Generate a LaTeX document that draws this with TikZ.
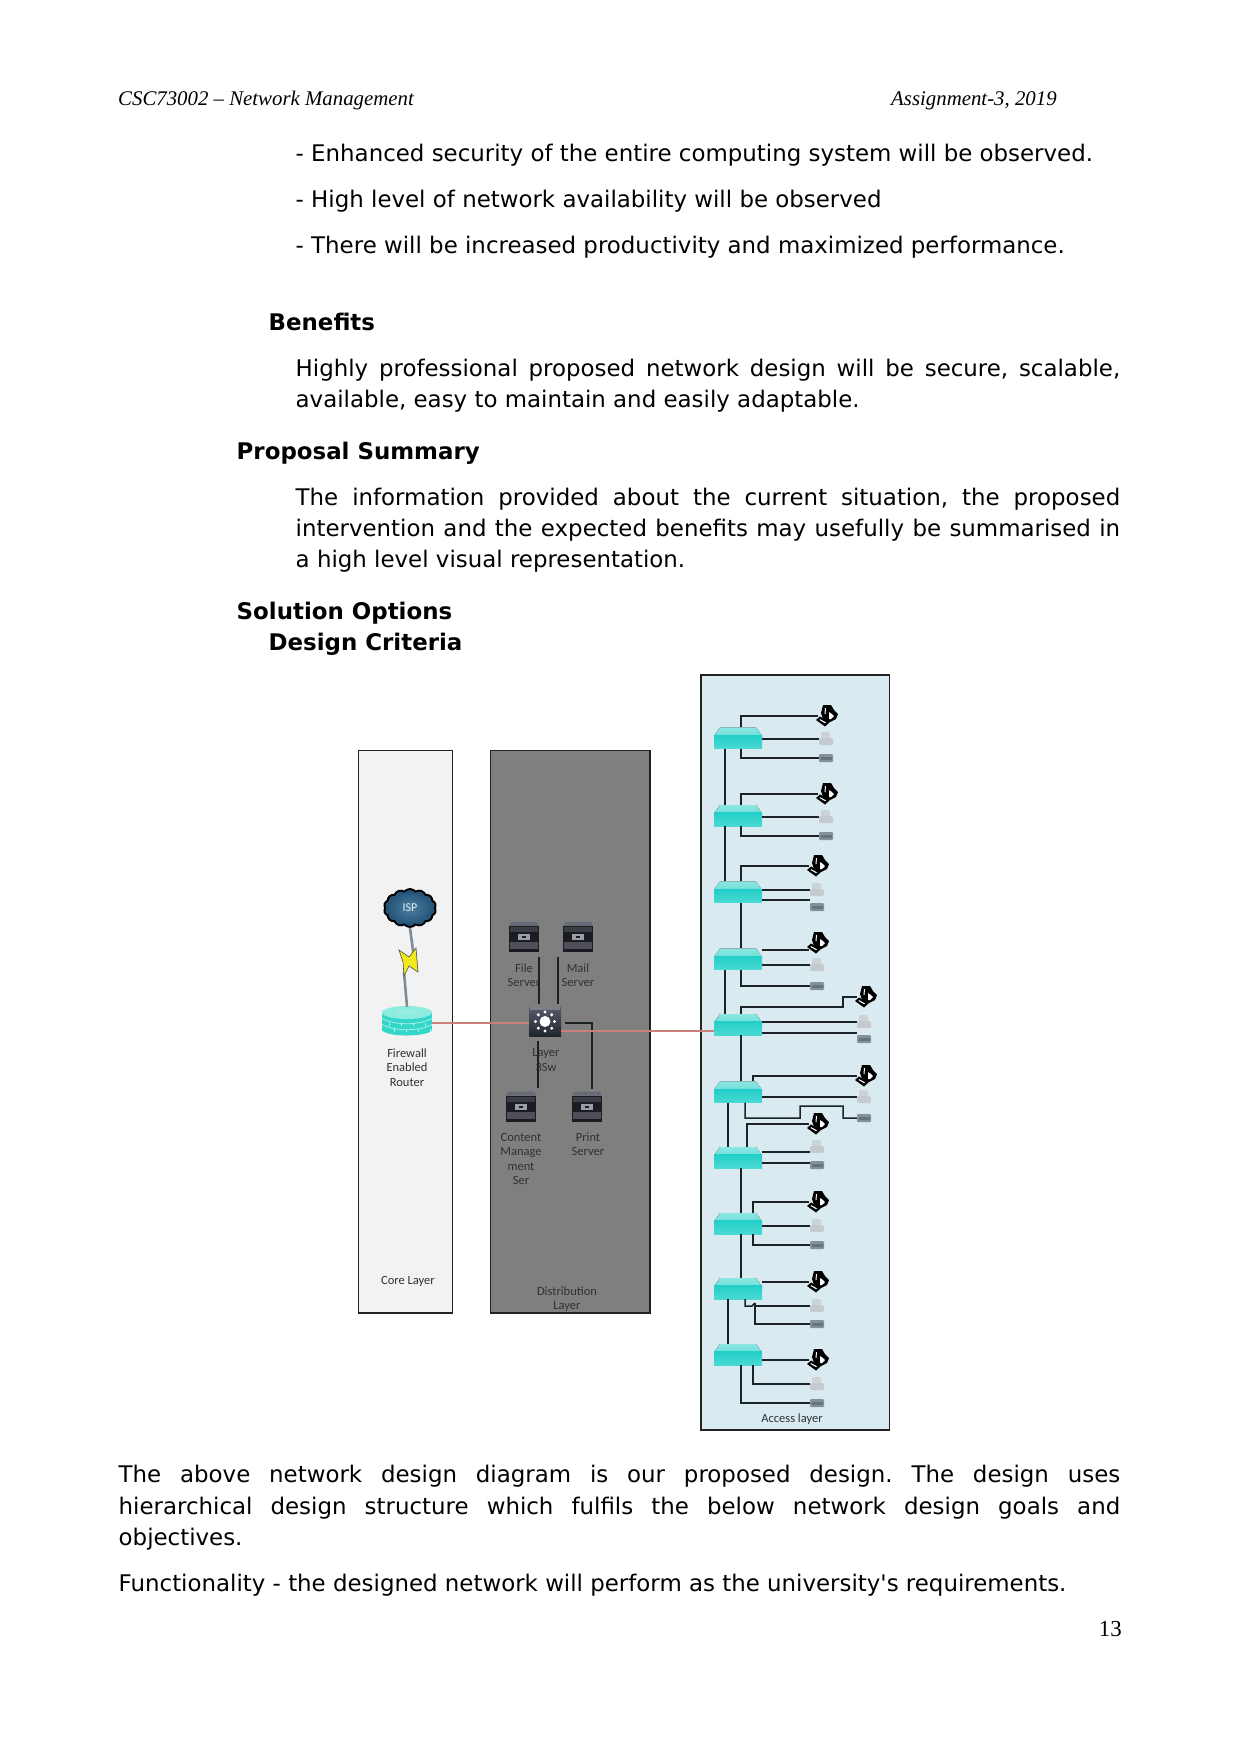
\documentclass[tikz,border=0pt]{standalone}
\usepackage{fontspec}
\setmainfont{DejaVu Sans}
\newfontfamily\pagefont{Liberation Serif}
\newfontfamily\labelfont{Carlito}
\usetikzlibrary{shapes.symbols}

\definecolor{corefill}{HTML}{F2F2F2}
\definecolor{distfill}{HTML}{7F7F7F}
\definecolor{accessfill}{HTML}{DAEAF1}
\definecolor{boxline}{HTML}{222222}
\definecolor{wirecol}{HTML}{1B2327}
\definecolor{linkred}{HTML}{C9807A}
\definecolor{labelcol}{HTML}{2E3236}
\definecolor{swtop}{HTML}{8CE6E2}
\definecolor{swtopb}{HTML}{6FE0DB}
\definecolor{swfront}{HTML}{22CFC8}
\definecolor{swfrontb}{HTML}{4BD9D3}
\definecolor{printerlight}{HTML}{CDD2D5}
\definecolor{printerbase}{HTML}{C4CACD}
\definecolor{unitgray}{HTML}{84909A}
\definecolor{unitdark}{HTML}{66727C}
\definecolor{srvtop}{HTML}{666B76}
\definecolor{srvbody}{HTML}{1A1C21}
\definecolor{srvbandA}{HTML}{3B3D45}
\definecolor{srvbandB}{HTML}{4E4F58}
\definecolor{srvplate}{HTML}{9A9EA4}
\definecolor{dswtop}{HTML}{585D6A}
\definecolor{dswbottom}{HTML}{20242C}
\definecolor{dswcap}{HTML}{7A7F8A}
\definecolor{rtbody}{HTML}{33D6C8}
\definecolor{rttop}{HTML}{8EEBE0}
\definecolor{rtline}{HTML}{A6F0E8}
\definecolor{cloudin}{HTML}{4D7FA3}
\definecolor{cloudout}{HTML}{1F4E72}
\definecolor{boltline}{HTML}{7E8C97}
\definecolor{boltfill}{HTML}{F2EA1E}

\newcommand{\bodyline}[3]{\node[bodytext] at (#1,#2) {#3};}
\newcommand{\justline}[3]{\node[bodytext] at (#1,#2) {\makebox[\dimexpr1120pt-#1pt\relax][s]{#3}};}
\newcommand{\headingline}[3]{\node[headtext] at (#1,#2) {#3};}

% One access switch, centred on (738,y)
\newcommand{\accswitch}[2]{%
  \node[swnode] (#1) at (738,#2) {};
  \pic at (#1) {swicon};}
% The three end devices hanging off a switch
\newcommand{\devset}[7]{%
  \node[pcnode] (p#1) at (#2,#3) {}; \pic at (p#1) {pcicon};
  \node[devnode] (l#1) at (#4,#5) {}; \pic at (l#1) {lighticon};
  \node[devnode] (g#1) at (#6,#7) {}; \pic at (g#1) {grayicon};}
% Horizontal wire from a switch's east side to a device's west side
\newcommand{\sidewire}[3]{\draw[wire] ([yshift=#3]#1.east |- #2.west) -- ([yshift=#3]#2.west);}

\tikzset{
  x=1pt, y=-1pt,
  bodytext/.style={anchor=base west,inner sep=0pt,font=\frenchspacing\fontsize{22.9}{28}\selectfont,text=black},
  headtext/.style={anchor=base west,inner sep=0pt,font=\fontsize{22.9}{28}\selectfont\bfseries,text=black},
  pagetext/.style={anchor=base west,inner sep=0pt,font=\pagefont\fontsize{20.83}{26}\selectfont\itshape,text=black},
  layerbox/.style={draw=boxline,line width=1.4pt},
  lab/.style={align=center,inner sep=0pt,text=labelcol,font=\labelfont\fontsize{12.5}{14.4}\selectfont},
  wire/.style={draw=wirecol,line width=1.5pt},
  redlink/.style={draw=linkred,line width=2pt},
  swnode/.style={rectangle,minimum width=48pt,minimum height=21pt,inner sep=0pt},
  pcnode/.style={rectangle,minimum width=18pt,minimum height=18pt,inner sep=0pt},
  devnode/.style={rectangle,minimum width=14pt,minimum height=10pt,inner sep=0pt},
  servernode/.style={rectangle,minimum width=30pt,minimum height=30pt,inner sep=0pt},
  swicon/.pic={
    \fill[top color=swtop,bottom color=swtopb] (-24,-2) -- (-18,-10.5) -- (18,-10.5) -- (24,-2) -- cycle;
    \fill[top color=swfront,bottom color=swfrontb] (-24,-3) rectangle (24,10.5);
  },
  pcicon/.pic={
    \fill[black] (-4,-11) -- (4,-11) -- (7,-6) -- (11,-2) -- (9,3) -- (3,6) -- (-4,3) -- (-6,-3) -- cycle;
    \fill[white] (2,-4) -- (5,-2) -- (7,0) -- (4,3) -- (2,3) -- cycle;
    \fill[white] (-2,-8) -- (-1,-8) -- (-1.5,-2) -- (-2.5,-2) -- cycle;
    \fill[black] (-11,4) -- (-7,0.5) -- (3,6) -- (-2,10.5) -- cycle;
    \fill[white] (-7.5,4) -- (-6.8,3.2) -- (-1,6.4) -- (-1.8,7.2) -- cycle;
  },
  lighticon/.pic={
    \fill[printerlight,rounded corners=1.5pt] (-5,-7) rectangle (4,1);
    \fill[printerbase,rounded corners=1.5pt] (-7,-1) rectangle (7,6);
  },
  grayicon/.pic={
    \fill[unitgray,rounded corners=1pt] (-7,-4) rectangle (7,4);
    \fill[unitdark] (-5,-1) rectangle (6,2);
  },
  servericon/.pic={
    \fill[srvtop] (-13,-15) -- (13,-15) -- (15,-11) -- (-15,-11) -- cycle;
    \fill[srvbody] (-15,-11) rectangle (15,15);
    \fill[srvbandA] (-14,-10) rectangle (14,-5);
    \fill[srvbandB] (-14,5) rectangle (14,12);
    \fill[srvplate] (-6,-3) rectangle (6,3);
    \fill[srvbody] (-2,-1) rectangle (2,1);
  },
  coreicon/.pic={
    \fill[top color=dswtop,bottom color=dswbottom] (-16,-14.5) rectangle (16,14.5);
    \fill[dswcap] (-15,-14.5) rectangle (15,-11.5);
    \fill[white] (0,0) circle[radius=5.5pt];
    \foreach \a in {0,45,...,315} \fill[white] (\a:9.5pt) circle[radius=1.7pt];
  },
  routericon/.pic={
    \fill[rtbody] (0,9) ellipse[x radius=25pt,y radius=6pt];
    \fill[rtbody] (-25,-8) rectangle (25,9);
    \draw[rtline,line width=.8pt] (-25,-2) .. controls (-12,5) and (12,5) .. (25,-2);
    \draw[rtline,line width=.8pt] (-25,4) .. controls (-12,11) and (12,11) .. (25,4);
    \fill[rttop] (0,-8) ellipse[x radius=25pt,y radius=6.5pt];
    \draw[rtline,line width=.7pt] (-10,-10) -- (10,-6) (-10,-6) -- (10,-10);
    \foreach \q in {-18,-6,6,18} \draw[rtline,line width=.6pt] (\q,2) -- (\q,5) (\q+5,8) -- (\q+5,11);
  },
}

\begin{document}
\begin{tikzpicture}
\useasboundingbox (0,0) rectangle (1241,1754);
\fill[white] (0,0) rectangle (1241,1754);

% Running head and folio
\node[pagetext] at (118,105) {CSC73002 – Network Management};
\node[pagetext] at (891,105) {Assignment-3, 2019};
\node[anchor=base east,inner sep=0pt,font=\pagefont\fontsize{22.9}{28}\selectfont] at (1122,1636) {13};

% Body text above the figure
\bodyline{295.5}{161}{- Enhanced security of the entire computing system will be observed.}
\bodyline{295.5}{207}{- High level of network availability will be observed}
\bodyline{295.5}{253}{- There will be increased productivity and maximized performance.}
\headingline{268.5}{330}{Benefits}
\justline{295.5}{376}{Highly professional proposed network design will be secure, scalable,}
\bodyline{295.5}{407}{available, easy to maintain and easily adaptable.}
\headingline{236.5}{459}{Proposal Summary}
\justline{295.5}{505}{The information provided about the current situation, the proposed}
\justline{295.5}{536}{intervention and the expected benefits may usefully be summarised in}
\bodyline{295.5}{567}{a high level visual representation.}
\headingline{236.5}{619}{Solution Options}
\headingline{268.5}{650}{Design Criteria}

% Body text below the figure
\justline{118.5}{1482}{The above network design diagram is our proposed design. The design uses}
\justline{118.5}{1514}{hierarchical design structure which fulfils the below network design goals and}
\bodyline{118.5}{1545}{objectives.}
\bodyline{118.5}{1591}{Functionality - the designed network will perform as the university\textquotesingle s requirements.}

% Layer panels
\draw[layerbox,fill=corefill] (358.5,750.5) rectangle (452.5,1313);
\draw[layerbox,fill=distfill] (490.5,750.5) rectangle (650,1313);
\draw[layerbox,fill=accessfill] (701,675) rectangle (889.5,1430);

% Panel captions
\node[lab] (corecap) at (408,1281) {Core Layer};
\node[lab] (distcap) at (567,1299) {Distribution\\Layer};
\node[lab] (accesscap) at (792,1419) {Access layer};

% Core layer devices
\node[cloud,cloud puffs=14,cloud puff arc=100,aspect=1.4,minimum width=52pt,minimum height=38pt,inner sep=0pt,
      shape border rotate=14,draw=black,line width=1.9pt,inner color=cloudin,outer color=cloudout,
      text=white!85!cloudin,font=\labelfont\fontsize{12}{14}\selectfont] (isp) at (410,908) {ISP};
\node[rectangle,minimum width=50pt,minimum height=29pt,inner sep=0pt] (router) at (407,1020.5) {};
\pic at (router) {routericon};
\node[lab] (routerlab) at (407,1067.5) {Firewall\\Enabled\\Router};

% Lightning link between ISP cloud and router
\coordinate (boltA) at (414,958);
\coordinate (boltB) at (404,972);
\draw[draw=boltline,line width=2.6pt] (isp.south) -- (boltA);
\draw[draw=boltline,line width=2.6pt] (boltB) -- ([yshift=-1pt]router.north);
\fill[boltfill,draw=gray!60!black,line width=.6pt] (399,950) -- (409,957) -- (416,948) -- (418,972) -- (409,966) -- (404,976) -- (403,962) -- cycle;

% Distribution layer devices
\node[servernode] (srvfile) at (524,937) {}; \pic at (srvfile) {servericon};
\node[servernode] (srvmail) at (578,937) {}; \pic at (srvmail) {servericon};
\node[servernode] (srvcontent) at (521,1106.5) {}; \pic at (srvcontent) {servericon};
\node[servernode] (srvprint) at (587,1106.5) {}; \pic at (srvprint) {servericon};
\node[rectangle,minimum width=32pt,minimum height=29pt,inner sep=0pt] (dsw) at (545,1021.5) {};
\pic at (dsw) {coreicon};
\node[lab] (filelab) at (524,975) {File\\Server};
\node[lab] (maillab) at (578,975) {Mail\\Server};
\node[lab] (dswlab) at (546,1060) {Layer\\3Sw};
\node[lab] (contentlab) at (521,1159) {Content\\Manage\\ment\\Ser};
\node[lab] (printlab) at (588,1144) {Print\\Server};

\draw[wire] ([yshift=-5pt]srvfile.south east) -- ([yshift=3pt]srvfile.south east |- dsw.north);
\draw[wire] ([xshift=-5pt,yshift=-5pt]srvmail.south west) -- ([xshift=-5pt,yshift=3pt]srvmail.south west |- dsw.north);
\draw[wire] ([xshift=2pt,yshift=3pt]srvcontent.north east) -- ([xshift=2pt,yshift=-5pt]srvcontent.north east |- dsw.south);
\draw[wire] ([xshift=4pt,yshift=-1.5pt]dsw.east) -| ([xshift=5pt,yshift=2pt]srvprint.north);

% Access layer switches
\accswitch{s1}{738}
\accswitch{s2}{815.5}
\accswitch{s3}{892}
\accswitch{s4}{959}
\accswitch{s5}{1024.5}
\accswitch{s6}{1092}
\accswitch{s7}{1157.5}
\accswitch{s8}{1223.5}
\accswitch{s9}{1288.5}
\accswitch{s10}{1354.5}

% End devices of each switch
\devset{1}{827}{716}{826}{739}{826}{758}
\devset{2}{827}{794}{826}{817}{826}{836}
\devset{3}{818}{866}{817}{890}{817}{907}
\devset{4}{818}{943}{817}{965}{817}{986}
\devset{5}{866}{997}{864}{1022}{864}{1039}
\devset{6}{866}{1076}{864}{1097}{864}{1118}
\devset{7}{818}{1124}{817}{1147}{817}{1165}
\devset{8}{818}{1202}{817}{1226}{817}{1245}
\devset{9}{818}{1282}{817}{1306}{817}{1324}
\devset{10}{818}{1360}{817}{1384}{817}{1403}

% Uplinks between switches
\draw[wire] ([xshift=-13pt]s1.south) -- ([xshift=-13pt]s2.north);
\draw[wire] ([xshift=-13pt]s2.south) -- ([xshift=-13pt]s3.north);
\draw[wire] ([xshift=3pt]s3.south) -- ([xshift=3pt]s4.north);
\draw[wire] ([xshift=-13pt]s4.south) -- ([xshift=-13pt]s5.north);
\draw[wire] ([xshift=3pt]s5.south) -- ([xshift=3pt]s6.north);
\draw[wire] ([xshift=-10pt]s6.south) -- ([xshift=-10pt]s7.north);
\draw[wire] ([xshift=3pt]s7.south) -- ([xshift=3pt]s8.north);
\draw[wire] ([xshift=3pt]s8.south) -- ([xshift=3pt]s9.north);
\draw[wire] ([xshift=-10pt]s9.south) -- ([xshift=-10pt]s10.north);

% Switch-to-device wiring
\draw[wire] ([xshift=3pt]s1.north) |- (p1.west);
\sidewire{s1}{l1}{0pt}
\draw[wire] ([xshift=3pt]s1.south) |- (g1.west);

\draw[wire] ([xshift=3pt]s2.north) |- (p2.west);
\sidewire{s2}{l2}{0pt}
\draw[wire] ([xshift=3pt]s2.south) |- (g2.west);

\draw[wire] ([xshift=3pt]s3.north) |- (p3.west);
\sidewire{s3}{l3}{0pt}
\sidewire{s3}{g3}{7pt}

\sidewire{s4}{p4}{-7pt}
\sidewire{s4}{l4}{0pt}
\draw[wire] ([xshift=3pt]s4.south) |- (g4.west);

\draw[wire] ([xshift=3pt]s5.north) -- ++(0,-7) -| ([xshift=-14pt]p5.west) -- (p5.west);
\sidewire{s5}{l5}{0pt}
\sidewire{s5}{g5}{6pt}

\draw[wire] ([xshift=15pt]s6.north) |- (p6.west);
\sidewire{s6}{l6}{0pt}
\draw[wire] ([xshift=7pt]s6.south) -- ++(0,15.5) -- ++(55,0) -- ++(0,-12) -- ++(43,0) -- ++(0,12) -- (g6.west);

\draw[wire] ([xshift=9pt]s7.north) |- (p7.west);
\sidewire{s7}{l7}{-5pt}
\sidewire{s7}{g7}{2pt}

\draw[wire] ([xshift=15pt]s8.north) |- (p8.west);
\sidewire{s8}{l8}{0pt}
\draw[wire] ([xshift=15pt]s8.south) |- (g8.west);

\coordinate (j9) at (755,1306);
\sidewire{s9}{p9}{0pt}
\draw[wire] ([xshift=7pt]s9.south) |- ([xshift=-3pt]j9) -- ([yshift=3pt]j9);
\draw[wire] ([yshift=3pt]j9) |- (g9.west);
\draw[wire] (j9) -- (l9.west);

\sidewire{s10}{p10}{0pt}
\draw[wire] ([xshift=15pt]s10.south) |- (l10.west);
\draw[wire] ([xshift=3pt]s10.south) |- (g10.west);

% Red backbone links
\draw[redlink] ([yshift=-2.5pt]router.east) -- ([yshift=-1.5pt]dsw.west);
\draw[redlink] ([yshift=-9.5pt]dsw.east) -- ([yshift=-6.5pt]s5.west);
\end{tikzpicture}
\end{document}
